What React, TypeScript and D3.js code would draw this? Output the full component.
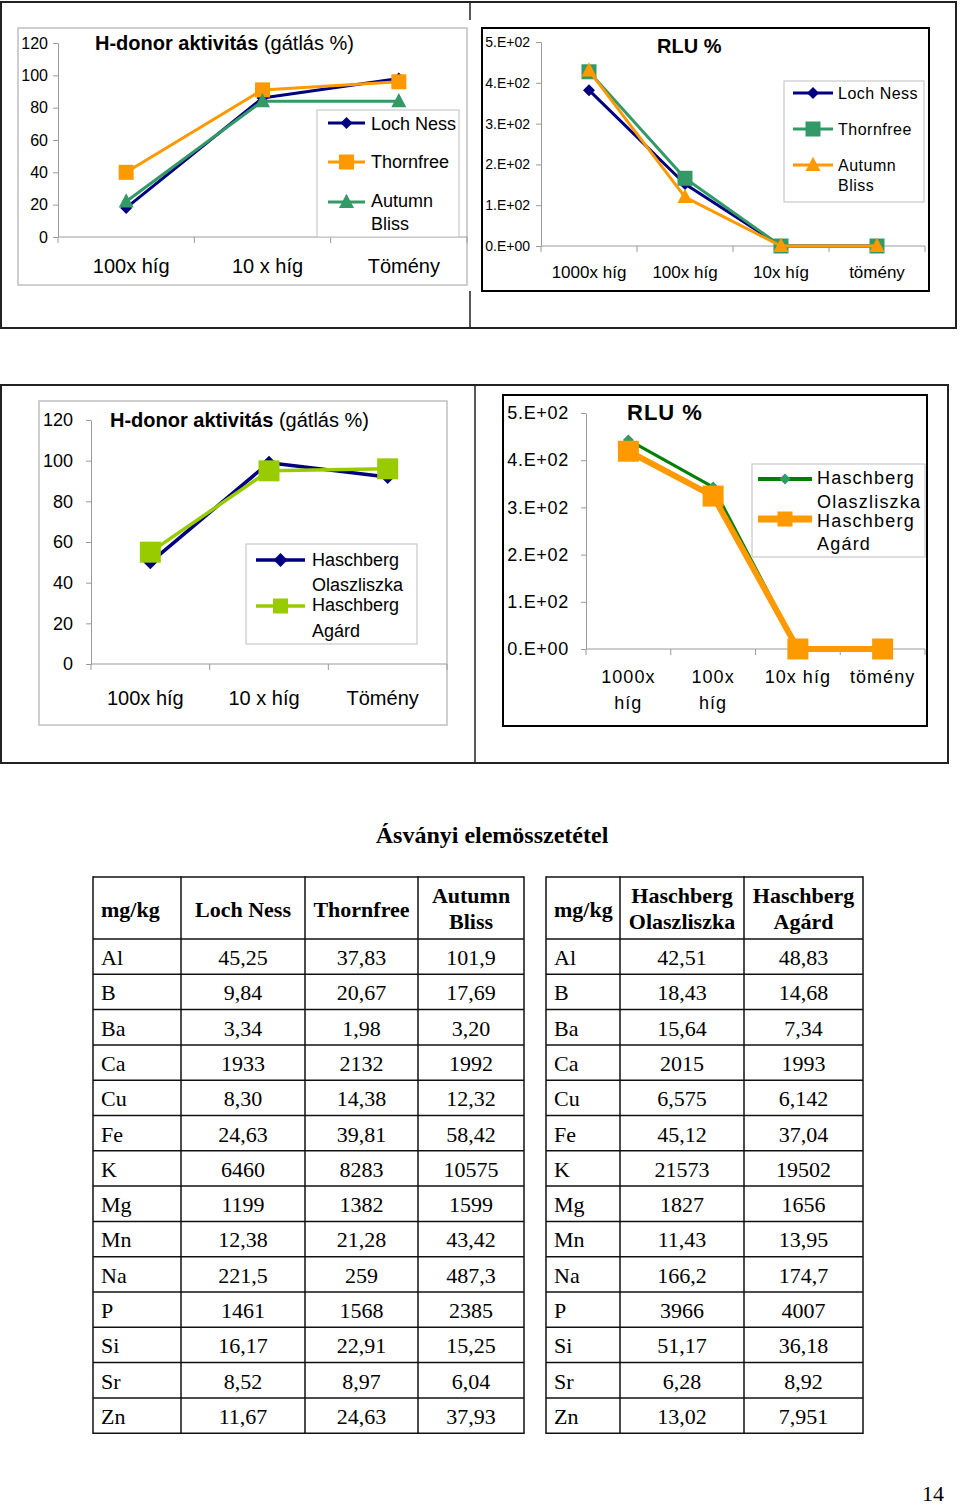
// Page with two pairs of line charts (H-donor activity, RLU %) and the mineral table
import React, { useEffect, useRef } from 'react'
import * as d3 from 'd3'

// categories and tick labels
const hdonorCategories = ['100x híg', '10 x híg', 'Tömény']
const rluCategories = ['1000x híg', '100x híg', '10x híg', 'tömény']
const rluCategoriesWrapped = [['1000x', 'híg'], ['100x', 'híg'], ['10x híg'], ['tömény']]
const hdonorTicks = [0, 20, 40, 60, 80, 100, 120]
const rluTicks = [0, 100, 200, 300, 400, 500]
const rluTickLabels = ['0.E+00', '1.E+02', '2.E+02', '3.E+02', '4.E+02', '5.E+02']

// series values
const lochNessHdonor = [18, 86, 98]
const thornfreeHdonor = [40, 91, 96]
const autumnBlissHdonor = [22, 84, 84]
const lochNessRlu = [382, 152, 0, 0]
const thornfreeRlu = [427, 166, 0, 0]
const autumnBlissRlu = [430, 120, 0, 0]
const olaszliszkaHdonor = [50, 99, 92]
const agardHdonor = [55, 95, 96]
const olaszliszkaRlu = [443, 343, 0, 0]
const agardRlu = [419, 324, 0, 0]

// table
const elements = ['Al', 'B', 'Ba', 'Ca', 'Cu', 'Fe', 'K', 'Mg', 'Mn', 'Na', 'P', 'Si', 'Sr', 'Zn']
const lochNessMin = ['45,25', '9,84', '3,34', '1933', '8,30', '24,63', '6460', '1199', '12,38', '221,5', '1461', '16,17', '8,52', '11,67']
const thornfreeMin = ['37,83', '20,67', '1,98', '2132', '14,38', '39,81', '8283', '1382', '21,28', '259', '1568', '22,91', '8,97', '24,63']
const autumnBlissMin = ['101,9', '17,69', '3,20', '1992', '12,32', '58,42', '10575', '1599', '43,42', '487,3', '2385', '15,25', '6,04', '37,93']
const olaszliszkaMin = ['42,51', '18,43', '15,64', '2015', '6,575', '45,12', '21573', '1827', '11,43', '166,2', '3966', '51,17', '6,28', '13,02']
const agardMin = ['48,83', '14,68', '7,34', '1993', '6,142', '37,04', '19502', '1656', '13,95', '174,7', '4007', '36,18', '8,92', '7,951']

const SANS = 'Liberation Sans, Arial, sans-serif'
const SERIF = 'Liberation Serif, Times New Roman, serif'
const axisGray = '#9a9a9a'
const navy = '#000080'
const orange = '#FF9900'
const teal = '#339966'
const lime = '#99CC00'
const green = '#008000'

function drawMarker(g, type, cx, cy, s, color) {
  if (type === 'square') {
    g.append('rect')
      .attr('x', cx - s / 2)
      .attr('y', cy - s / 2)
      .attr('width', s)
      .attr('height', s)
      .attr('fill', color)
  } else if (type === 'diamond') {
    const h = s / 2
    g.append('path')
      .attr('d', `M${cx},${cy - h}L${cx + h},${cy}L${cx},${cy + h}L${cx - h},${cy}Z`)
      .attr('fill', color)
  } else {
    g.append('path')
      .attr('d', `M${cx},${cy - s * 0.55}L${cx + s / 2},${cy + s * 0.4}L${cx - s / 2},${cy + s * 0.4}Z`)
      .attr('fill', color)
  }
}

function drawChart(svg, c) {
  const g = svg.append('g')
  const [bx0, by0, bx1, by1] = c.box
  g.append('rect')
    .attr('x', bx0)
    .attr('y', by0)
    .attr('width', bx1 - bx0)
    .attr('height', by1 - by0)
    .attr('fill', '#fff')
    .attr('stroke', c.boxColor)
    .attr('stroke-width', c.boxWidth)

  const [left, right, top, bottom] = c.plot
  const x = d3.scaleBand().domain(c.categories).range([left, right])
  const y = d3.scaleLinear().domain([0, c.yMax]).range([bottom, top])
  const cx = (i) => x(c.categories[i]) + x.bandwidth() / 2

  // y axis
  const yAxis = g
    .append('g')
    .attr('transform', `translate(${left},0)`)
    .call(
      d3
        .axisLeft(y)
        .tickValues(c.yTicks)
        .tickSize(5)
        .tickSizeOuter(0)
        .tickPadding(c.tickPad)
        .tickFormat((d, i) => (c.yTickLabels ? c.yTickLabels[i] : String(d)))
    )
  yAxis.select('.domain').attr('stroke', axisGray)
  yAxis.selectAll('line').attr('stroke', axisGray)
  yAxis
    .selectAll('text')
    .attr('font-family', SANS)
    .attr('font-size', c.tickFont)
    .attr('letter-spacing', c.tickSpacing || 0)
    .attr('fill', '#000')

  // x axis with ticks between categories
  g.append('line')
    .attr('x1', left)
    .attr('x2', right)
    .attr('y1', bottom)
    .attr('y2', bottom)
    .attr('stroke', axisGray)
  g.selectAll('.xtick')
    .data(d3.range(c.categories.length + 1))
    .join('line')
    .attr('x1', (i) => left + i * x.step())
    .attr('x2', (i) => left + i * x.step())
    .attr('y1', bottom)
    .attr('y2', bottom + 6)
    .attr('stroke', axisGray)

  c.categories.forEach((cat, i) => {
    const lines = c.catLabels ? c.catLabels[i] : [cat]
    lines.forEach((t, j) => {
      g.append('text')
        .attr('x', cx(i) + (c.catDx || 0))
        .attr('y', c.catY + j * (c.catLineH || 0))
        .attr('text-anchor', 'middle')
        .attr('font-family', SANS)
        .attr('font-size', c.catFont)
        .attr('letter-spacing', c.catSpacing || 0)
        .text(t)
    })
  })

  // title
  const title = g
    .append('text')
    .attr('x', c.title.x)
    .attr('y', c.title.y)
    .attr('font-family', SANS)
    .attr('font-size', c.title.size)
    .attr('letter-spacing', c.title.spacing || 0)
  c.title.parts.forEach(([t, bold]) => {
    title.append('tspan').attr('font-weight', bold ? 'bold' : 'normal').text(t)
  })

  // series
  const line = d3
    .line()
    .x((d, i) => cx(i))
    .y((d) => y(d))
  c.series.forEach((s) => {
    g.append('path')
      .datum(s.values)
      .attr('d', line)
      .attr('fill', 'none')
      .attr('stroke', s.lineColor || s.color)
      .attr('stroke-width', s.width)
      .attr('stroke-linejoin', 'round')
    s.values.forEach((v, i) => drawMarker(g, s.marker, cx(i), y(v), s.size, s.color))
  })

  // legend
  const L = c.legend
  g.append('rect')
    .attr('x', L.box[0])
    .attr('y', L.box[1])
    .attr('width', L.box[2] - L.box[0])
    .attr('height', L.box[3] - L.box[1])
    .attr('fill', '#fff')
    .attr('stroke', '#c8c8c8')
    .attr('stroke-width', 1.2)
  c.series.forEach((s, k) => {
    const item = L.items[k]
    g.append('line')
      .attr('x1', L.line[0])
      .attr('x2', L.line[1])
      .attr('y1', item.lineY)
      .attr('y2', item.lineY)
      .attr('stroke', s.lineColor || s.color)
      .attr('stroke-width', s.legendWidth || s.width)
    drawMarker(g, s.marker, (L.line[0] + L.line[1]) / 2, item.lineY, s.legendSize || s.size, s.color)
    s.label.forEach((t, j) => {
      g.append('text')
        .attr('x', L.textX)
        .attr('y', item.baselines[j])
        .attr('font-family', SANS)
        .attr('font-size', L.font)
        .attr('letter-spacing', L.spacing || 0)
        .text(t)
    })
  })
}

function drawTable(svg, t) {
  const g = svg.append('g')
  const cols = t.cols
  const rowH = 35.3
  const bodyTop = t.headerBottom
  const tableBottom = bodyTop + t.rows.length * rowH
  const stroke = '#111'

  // header
  t.headers.forEach((lines, ci) => {
    const bases = lines.length === 1 ? [t.headerTop + 40] : [t.headerTop + 26, t.headerTop + 52]
    lines.forEach((txt, j) => {
      g.append('text')
        .attr('x', ci === 0 ? cols[0] + 8 : (cols[ci] + cols[ci + 1]) / 2)
        .attr('y', bases[j])
        .attr('text-anchor', ci === 0 ? 'start' : 'middle')
        .attr('font-family', SERIF)
        .attr('font-weight', 'bold')
        .attr('font-size', 22)
        .text(txt)
    })
  })

  // body
  t.rows.forEach((row, ri) => {
    const base = bodyTop + ri * rowH + 26
    row.forEach((txt, ci) => {
      g.append('text')
        .attr('x', ci === 0 ? cols[0] + 8 : (cols[ci] + cols[ci + 1]) / 2)
        .attr('y', base)
        .attr('text-anchor', ci === 0 ? 'start' : 'middle')
        .attr('font-family', SERIF)
        .attr('font-size', 22)
        .text(txt)
    })
  })

  // grid
  const hLines = [t.headerTop, bodyTop].concat(t.rows.map((r, i) => bodyTop + (i + 1) * rowH))
  hLines.forEach((yy) => {
    g.append('line')
      .attr('x1', cols[0])
      .attr('x2', cols[cols.length - 1])
      .attr('y1', yy)
      .attr('y2', yy)
      .attr('stroke', stroke)
      .attr('stroke-width', 1.5)
  })
  cols.forEach((xx) => {
    g.append('line')
      .attr('x1', xx)
      .attr('x2', xx)
      .attr('y1', t.headerTop - 0.75)
      .attr('y2', tableBottom + 0.75)
      .attr('stroke', stroke)
      .attr('stroke-width', 1.5)
  })
}

export default function App() {
  const ref = useRef(null)

  useEffect(() => {
    const svg = d3.select(ref.current)
    svg.selectAll('*').remove()

    // outer frames of the layout table
    svg.append('rect').attr('x', 1).attr('y', 2).attr('width', 955).attr('height', 326)
      .attr('fill', 'none').attr('stroke', '#222').attr('stroke-width', 2)
    svg.append('path').attr('d', 'M470,2V20M470,291V328').attr('stroke', '#222').attr('stroke-width', 1.5)
    svg.append('rect').attr('x', 1).attr('y', 385).attr('width', 947).attr('height', 378)
      .attr('fill', 'none').attr('stroke', '#222').attr('stroke-width', 2)
    svg.append('path').attr('d', 'M475,385V763').attr('stroke', '#222').attr('stroke-width', 1.5)

    drawChart(svg, {
      box: [18, 28, 467, 285],
      boxColor: '#c0c0c0',
      boxWidth: 1.5,
      plot: [58, 467, 43, 237],
      categories: hdonorCategories,
      yMax: 120,
      yTicks: hdonorTicks,
      tickFont: 16,
      tickPad: 5,
      catFont: 20,
      catY: 273,
      catDx: 5,
      title: { x: 95, y: 50, size: 20, parts: [['H-donor aktivitás', true], [' (gátlás %)', false]] },
      series: [
        { label: ['Loch Ness'], values: lochNessHdonor, color: navy, width: 3, marker: 'diamond', size: 12 },
        { label: ['Thornfree'], values: thornfreeHdonor, color: orange, width: 3, marker: 'square', size: 15 },
        { label: ['Autumn', 'Bliss'], values: autumnBlissHdonor, color: teal, width: 3, marker: 'triangle', size: 15 },
      ],
      legend: {
        box: [317, 110, 459, 237],
        line: [328, 365],
        textX: 371,
        font: 18,
        items: [
          { lineY: 123, baselines: [130] },
          { lineY: 162, baselines: [168] },
          { lineY: 202, baselines: [207, 230] },
        ],
      },
    })

    drawChart(svg, {
      box: [482, 28, 929, 291],
      boxColor: '#000',
      boxWidth: 2,
      plot: [541, 925, 42, 246],
      categories: rluCategories,
      yMax: 500,
      yTicks: rluTicks,
      yTickLabels: rluTickLabels,
      tickFont: 14,
      tickPad: 6,
      catFont: 17,
      catY: 278,
      title: { x: 657, y: 53, size: 20, parts: [['RLU %', true]] },
      series: [
        { label: ['Loch Ness'], values: lochNessRlu, color: navy, width: 3, marker: 'diamond', size: 12 },
        { label: ['Thornfree'], values: thornfreeRlu, color: teal, width: 3, marker: 'square', size: 15 },
        { label: ['Autumn', 'Bliss'], values: autumnBlissRlu, color: orange, width: 3, marker: 'triangle', size: 15 },
      ],
      legend: {
        box: [784, 81, 924, 202],
        line: [793, 833],
        textX: 838,
        font: 16,
        spacing: 0.5,
        items: [
          { lineY: 93, baselines: [99] },
          { lineY: 129, baselines: [135] },
          { lineY: 165, baselines: [171, 191] },
        ],
      },
    })

    drawChart(svg, {
      box: [39, 401, 447, 725],
      boxColor: '#c0c0c0',
      boxWidth: 1.5,
      plot: [91, 447, 420, 664],
      categories: hdonorCategories,
      yMax: 120,
      yTicks: hdonorTicks,
      tickFont: 18,
      tickPad: 13,
      catFont: 20,
      catY: 705,
      catDx: -5,
      title: { x: 110, y: 427, size: 20, parts: [['H-donor aktivitás', true], [' (gátlás %)', false]] },
      series: [
        { label: ['Haschberg', 'Olaszliszka'], values: olaszliszkaHdonor, color: navy, width: 3.5, marker: 'diamond', size: 14 },
        { label: ['Haschberg', 'Agárd'], values: agardHdonor, color: lime, width: 3.5, marker: 'square', size: 21, legendSize: 15 },
      ],
      legend: {
        box: [246, 544, 417, 644],
        line: [256, 305],
        textX: 312,
        font: 18,
        items: [
          { lineY: 560, baselines: [566, 591] },
          { lineY: 606, baselines: [611, 637] },
        ],
      },
    })

    drawChart(svg, {
      box: [503, 395, 927, 726],
      boxColor: '#000',
      boxWidth: 2,
      plot: [586, 925, 413, 649],
      categories: rluCategories,
      catLabels: rluCategoriesWrapped,
      yMax: 500,
      yTicks: rluTicks,
      yTickLabels: rluTickLabels,
      tickFont: 18,
      tickSpacing: 0.7,
      tickPad: 12,
      catFont: 18,
      catSpacing: 1,
      catY: 683,
      catLineH: 26,
      title: { x: 627, y: 420, size: 22, spacing: 1, parts: [['RLU %', true]] },
      series: [
        { label: ['Haschberg', 'Olaszliszka'], values: olaszliszkaRlu, color: teal, lineColor: green, width: 3, legendWidth: 4, marker: 'diamond', size: 11 },
        { label: ['Haschberg', 'Agárd'], values: agardRlu, color: orange, width: 6, legendWidth: 7, marker: 'square', size: 21, legendSize: 15 },
      ],
      legend: {
        box: [752, 464, 925, 557],
        line: [758, 812],
        textX: 817,
        font: 18,
        spacing: 1.2,
        items: [
          { lineY: 479, baselines: [484, 508] },
          { lineY: 519, baselines: [527, 550] },
        ],
      },
    })

    // mineral table
    svg.append('text')
      .attr('x', 492)
      .attr('y', 843)
      .attr('text-anchor', 'middle')
      .attr('font-family', SERIF)
      .attr('font-weight', 'bold')
      .attr('font-size', 24)
      .text('Ásványi elemösszetétel')

    drawTable(svg, {
      cols: [93, 181, 305, 418, 524],
      headerTop: 877,
      headerBottom: 939,
      headers: [['mg/kg'], ['Loch Ness'], ['Thornfree'], ['Autumn', 'Bliss']],
      rows: elements.map((el, i) => [el, lochNessMin[i], thornfreeMin[i], autumnBlissMin[i]]),
    })
    drawTable(svg, {
      cols: [546, 620, 744, 863],
      headerTop: 877,
      headerBottom: 939,
      headers: [['mg/kg'], ['Haschberg', 'Olaszliszka'], ['Haschberg', 'Agárd']],
      rows: elements.map((el, i) => [el, olaszliszkaMin[i], agardMin[i]]),
    })

    svg.append('text')
      .attr('x', 944)
      .attr('y', 1501)
      .attr('text-anchor', 'end')
      .attr('font-family', SERIF)
      .attr('font-size', 22)
      .text('14')
  }, [])

  return (
    <div style={{ position: 'absolute', left: 0, top: 0 }}>
      <svg ref={ref} width={960} height={1509} style={{ display: 'block', background: '#fff' }} />
    </div>
  )
}
